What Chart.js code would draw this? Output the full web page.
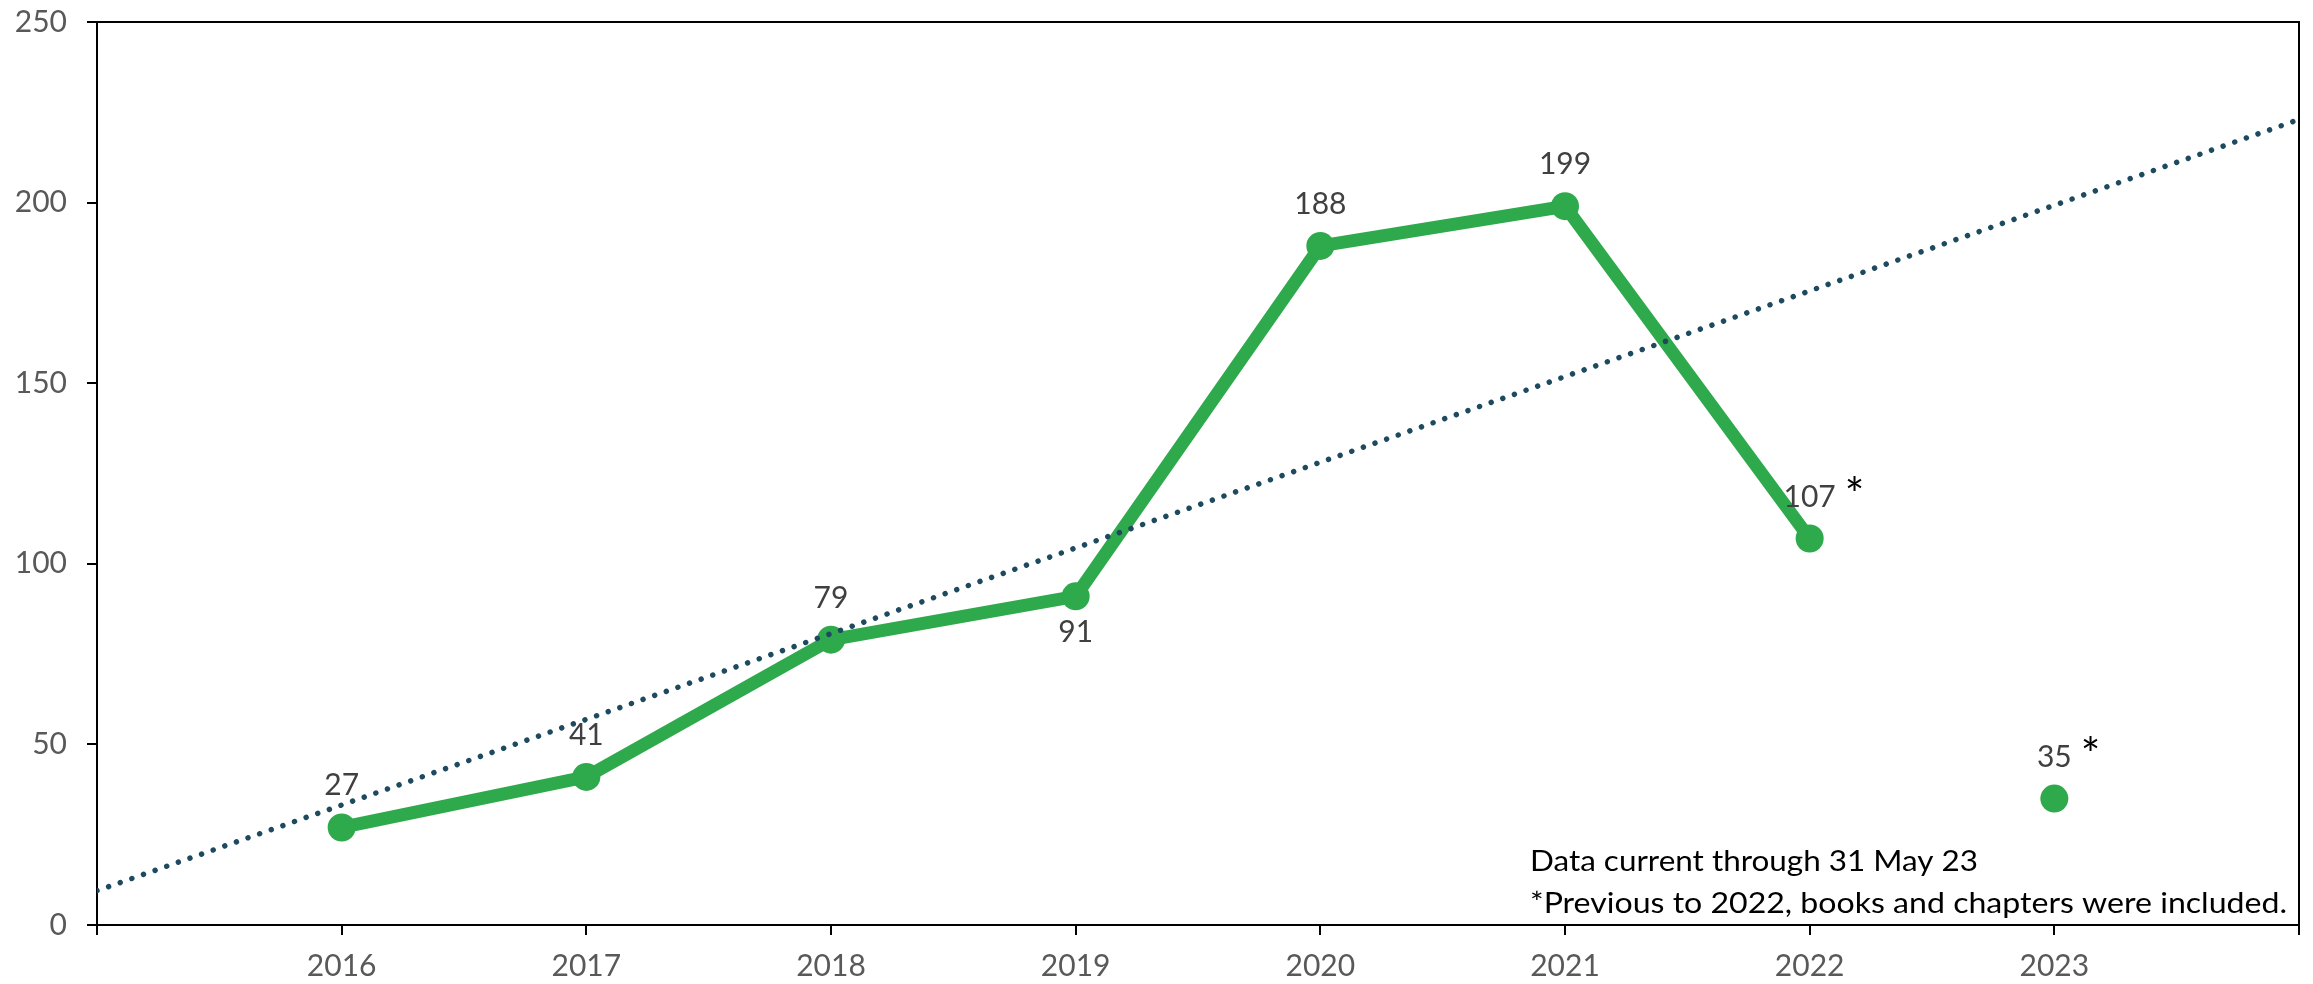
<!DOCTYPE html>
<html>
<head>
<meta charset="utf-8">
<script src="https://cdn.jsdelivr.net/npm/chart.js@4.4.0/dist/chart.umd.min.js"></script>
<style>
  html, body { margin: 0; padding: 0; background: #fff; }
  #wrap { width: 2313px; height: 984px; }
</style>
</head>
<body>
<div id="wrap"><canvas id="myChart" width="2313" height="984"></canvas></div>
<script>
// publications per year (2023 is partial, shown as a lone point)
const years = [2016, 2017, 2018, 2019, 2020, 2021, 2022, 2023];
const counts = [27, 41, 79, 91, 188, 199, 107, 35];
const starredYears = [2022, 2023];
// trend line end points
const trendYears = [2015, 2024];
const trendValues = [9.5, 223];
const yTicks = [0, 50, 100, 150, 200, 250];
const notes = [
    'Data current through 31 May 23',
    '*Previous to 2022, books and chapters were included.'
];

const green = '#2ea94b';
const trendColor = '#1d4a5e';
const font = 'Lato, "Open Sans", sans-serif';

// draws text stretched to a given width (the original font is wider than Lato)
const fitText = (ctx, txt, x, y, width) => {
    const w = ctx.measureText(txt).width;
    ctx.save();
    ctx.translate(x, y);
    ctx.scale(width / w, 1);
    ctx.fillText(txt, 0, 0);
    ctx.restore();
}

const labelsPlugin = {
    id: 'pointLabels',
    afterDatasetsDraw(chart) {
        const ctx = chart.ctx;
        const meta = chart.getDatasetMeta(0);
        ctx.save();
        meta.data.forEach((pt, i) => {
            const txt = String(counts[i]);
            ctx.font = '30px ' + font;
            ctx.fillStyle = '#404040';
            ctx.textAlign = 'center';
            ctx.textBaseline = 'alphabetic';
            // 2019 label sits under its point
            const below = years[i] === 2019;
            const by = below ? pt.y + 46 : pt.y - 32;
            ctx.fillText(txt, pt.x, by);
            if (starredYears.includes(years[i])) {
                const w = ctx.measureText(txt).width;
                ctx.font = '46px ' + font;
                ctx.fillStyle = '#000';
                ctx.textAlign = 'left';
                ctx.fillText('*', pt.x + w / 2 + 9, by + 4);
            }
        });
        ctx.restore();
    },
    afterDraw(chart) {
        const ctx = chart.ctx;
        const a = chart.chartArea;
        ctx.save();
        // top and right frame lines
        ctx.strokeStyle = '#000';
        ctx.lineWidth = 2;
        ctx.beginPath();
        ctx.moveTo(a.left, a.top);
        ctx.lineTo(a.right, a.top);
        ctx.lineTo(a.right, a.bottom);
        ctx.stroke();
        // notes
        ctx.font = '29px ' + font;
        ctx.fillStyle = '#000';
        ctx.textAlign = 'left';
        ctx.textBaseline = 'alphabetic';
        fitText(ctx, notes[0], 1530, 871, 448);
        fitText(ctx, notes[1], 1530, 913, 757);
        ctx.restore();
    }
};

const ctx = document.getElementById('myChart').getContext('2d');
window.grafica = new Chart(ctx, {
    type: 'line',
    data: {
        datasets: [{
            label: 'Publications',
            data: years.map((y, i) => ({ x: y, y: counts[i] })),
            borderColor: green,
            backgroundColor: green,
            borderWidth: 13,
            pointRadius: 14,
            pointBorderWidth: 0,
            pointBackgroundColor: green,
            segment: {
                // 2022 -> 2023 is not joined
                borderColor: c => c.p1.parsed.x === 2023 ? 'rgba(0,0,0,0)' : green
            },
            order: 1
        }, {
            label: 'Trend',
            data: trendYears.map((y, i) => ({ x: y, y: trendValues[i] })),
            borderColor: trendColor,
            borderWidth: 5.5,
            borderCapStyle: 'round',
            borderDash: [0.01, 12.3],
            pointRadius: 0,
            fill: false,
            order: 0
        }]
    },
    options: {
        responsive: false,
        animation: false,
        events: [],
        layout: { autoPadding: false, padding: { left: 0, top: 22, right: 14, bottom: 0 } },
        plugins: {
            legend: { display: false },
            tooltip: { enabled: false }
        },
        scales: {
            x: {
                type: 'linear',
                min: 2015,
                max: 2024,
                afterFit: s => { s.height = 59; s.paddingLeft = 0; s.paddingRight = 0; },
                border: { display: true, color: '#000', width: 2 },
                grid: { drawOnChartArea: false, drawTicks: true, tickLength: 10, color: '#000', lineWidth: 2 },
                ticks: {
                    stepSize: 1,
                    padding: 13,
                    color: '#595959',
                    font: { family: font, size: 30 },
                    maxRotation: 0,
                    autoSkip: false,
                    callback: v => years.includes(v) ? String(v) : ''
                }
            },
            y: {
                min: 0,
                max: 250,
                afterFit: s => { s.width = 97; s.paddingTop = 0; s.paddingBottom = 0; },
                afterBuildTicks: s => { s.ticks = yTicks.map(v => ({ value: v })); },
                border: { display: true, color: '#000', width: 2 },
                grid: { drawOnChartArea: false, drawTicks: true, tickLength: 10, color: '#000', lineWidth: 2 },
                ticks: {
                    padding: 20,
                    color: '#595959',
                    font: { family: font, size: 30 }
                }
            }
        }
    },
    plugins: [labelsPlugin]
});
</script>
</body>
</html>
